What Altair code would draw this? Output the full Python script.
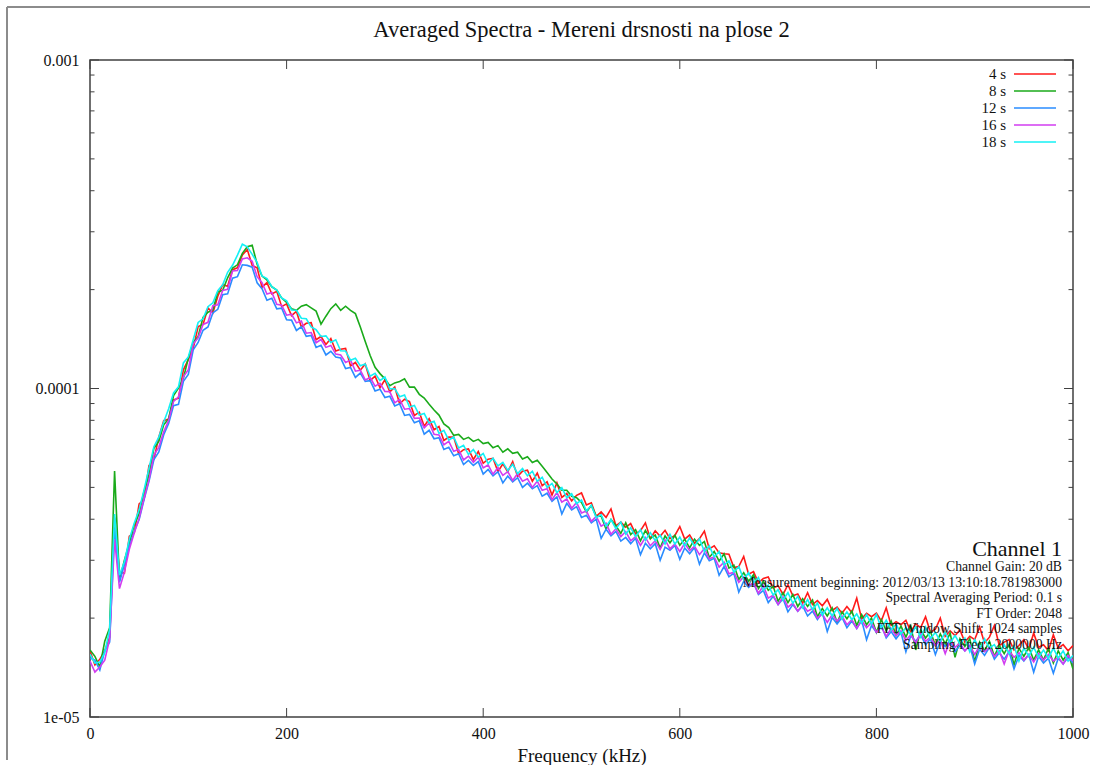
import altair as alt
import pandas as pd

FONT = "Liberation Serif"

# frequency grid (kHz)
FREQ = list(range(0, 1001, 5))
UNIT = 1e-5  # values below are in units of 1e-5

S4 = [1.59,1.44,1.50,1.59,1.75,4.05,2.76,2.74,3.55,3.63,
4.45,4.59,5.83,6.08,7.11,7.98,8.08,9.23,9.34,11.4,
12.24,13.25,15.44,15.67,17.58,16.99,19.1,20.7,20.47,23.0,
23.3,25.5,26.5,23.7,23.3,20.35,21.0,19.4,19.76,17.75,
18.1,16.66,17.16,15.4,15.8,15.86,14.07,14.4,13.62,14.2,
13.0,13.16,13.25,11.71,12.0,11.37,11.87,10.57,10.9,10.05,
10.63,9.77,10.1,8.98,9.28,9.13,8.28,8.47,7.67,8.09,
7.49,7.66,6.95,7.11,7.12,6.33,6.51,6.55,6.08,6.43,
5.92,6.09,6.13,5.58,5.9,5.58,5.99,5.4,5.6,5.64,
5.22,5.53,5.06,5.2,4.74,5.16,4.66,4.79,4.55,4.73,
4.81,4.42,4.49,4.08,4.21,4.05,4.3,3.82,3.92,3.78,
3.88,3.61,3.69,3.9,3.49,3.69,3.55,3.70,3.49,3.57,
3.8,3.48,3.58,3.38,3.49,3.68,3.25,3.32,3.16,3.14,
3.13,2.85,2.87,3.08,2.72,2.77,2.56,2.64,2.67,2.47,
2.51,2.36,2.53,2.34,2.37,2.22,2.39,2.20,2.26,2.18,
2.28,2.11,2.16,2.07,2.17,2.08,2.3,1.99,2.07,2.02,
2.07,1.96,2.15,1.90,1.95,1.91,1.97,1.82,1.92,1.87,
2.02,1.81,1.85,2.0,1.76,1.83,1.77,1.84,1.69,1.76,
1.72,1.88,1.68,1.75,1.9,1.65,1.69,1.72,1.60,1.65,
1.72,1.61,1.8,1.63,1.66,1.59,1.78,1.62,1.66,1.59,
1.65]

S8 = [1.60,1.53,1.42,1.70,1.87,5.61,2.60,3.0,3.38,3.85,
4.16,4.87,5.44,6.58,6.9,7.76,8.08,9.51,10.03,10.74,
12.36,13.8,14.4,16.46,17.07,17.35,19.67,19.89,21.73,23.26,
23.8,25.8,27.0,27.3,23.9,22.0,21.4,20.4,19.95,18.85,
18.3,17.5,17.3,17.8,18.0,17.6,17.2,15.7,16.6,17.5,
18.1,17.3,17.8,17.3,16.9,15.4,13.9,12.6,11.6,11.1,
10.7,10.2,10.4,10.5,10.7,10.1,10.1,9.6,9.35,8.95,
8.6,8.3,7.8,7.6,7.2,7.25,7.0,7.1,6.9,7.0,
6.8,6.85,6.6,6.7,6.4,6.55,6.35,6.4,6.1,6.2,
5.95,6.05,5.8,5.55,5.3,5.12,4.9,4.9,4.7,4.65,
4.5,4.2,4.41,4.08,4.09,3.73,3.99,3.82,3.62,3.9,
3.59,3.72,3.44,3.7,3.49,3.58,3.27,3.56,3.39,3.57,
3.33,3.48,3.27,3.48,3.33,3.42,3.06,3.19,2.98,3.14,
2.84,2.9,2.62,2.75,2.59,2.71,2.46,2.59,2.43,2.5,
2.25,2.39,2.23,2.36,2.17,2.29,2.17,2.27,2.02,2.14,
2.03,2.15,1.94,2.09,1.99,2.1,1.9,2.05,1.91,2.0,
1.81,1.98,1.83,1.96,1.77,1.89,1.75,1.89,1.6,1.84,
1.74,1.82,1.65,1.79,1.67,1.8,1.52,1.73,1.64,1.73,
1.47,1.69,1.59,1.7,1.53,1.65,1.56,1.66,1.44,1.62,
1.53,1.63,1.49,1.6,1.49,1.62,1.46,1.59,1.49,1.57,
1.4]

S12 = [1.51,1.49,1.39,1.59,1.69,3.74,2.57,2.91,3.31,3.67,
3.99,4.59,5.22,6.08,6.41,7.23,7.83,8.87,8.95,10.52,
11.04,13.11,13.81,15.04,15.4,17.0,17.42,19.29,19.41,21.66,
21.9,23.8,23.7,23.4,20.98,20.14,18.56,18.81,17.48,17.57,
16.19,16.15,15.02,15.41,14.42,14.5,13.34,13.54,12.65,12.98,
12.46,12.38,11.5,11.59,10.81,11.14,10.51,10.57,9.83,9.95,
9.39,9.47,8.85,8.98,8.28,8.34,7.86,7.97,7.26,7.46,
7.03,7.08,6.52,6.62,6.24,6.33,5.87,6.04,5.83,5.99,
5.49,5.67,5.42,5.58,5.16,5.41,5.2,5.35,5.0,5.15,
4.95,5.06,4.7,4.8,4.54,4.68,4.15,4.47,4.27,4.37,
4.05,4.11,3.9,4.0,3.5,3.73,3.56,3.67,3.43,3.52,
3.37,3.5,3.12,3.38,3.25,3.37,3.0,3.29,3.22,3.33,
3.02,3.27,3.14,3.28,2.92,3.16,2.99,3.04,2.7,2.87,
2.67,2.74,2.4,2.59,2.48,2.56,2.36,2.43,2.23,2.33,
2.2,2.29,2.09,2.2,2.1,2.18,2.03,2.1,1.98,2.08,
1.82,2.01,1.92,2.01,1.87,1.96,1.86,1.97,1.72,1.9,
1.81,1.9,1.74,1.82,1.73,1.81,1.58,1.77,1.7,1.78,
1.66,1.73,1.55,1.7,1.64,1.71,1.58,1.65,1.59,1.65,
1.45,1.61,1.54,1.63,1.5,1.57,1.5,1.58,1.4,1.54,
1.48,1.55,1.37,1.53,1.46,1.51,1.36,1.51,1.45,1.52,
1.46]

S16 = [1.48,1.37,1.42,1.49,1.73,3.48,2.46,2.76,3.24,3.63,
4.03,4.63,5.27,6.27,6.62,7.38,8.0,9.14,9.44,10.85,
11.4,13.66,14.26,15.67,15.9,17.88,17.98,19.89,20.05,22.8,
22.85,24.8,25.0,24.4,21.9,21.0,19.4,19.6,18.05,17.93,
16.72,16.83,15.84,16.05,14.73,14.8,13.78,14.1,13.34,13.52,
12.73,12.64,12.0,12.2,11.29,11.37,10.62,10.79,10.16,10.37,
9.8,9.77,9.04,9.26,8.65,8.69,8.11,8.13,7.59,7.85,
7.26,7.22,6.74,6.9,6.44,6.52,6.06,6.23,5.96,6.18,
5.73,5.85,5.48,5.75,5.44,5.58,5.25,5.51,5.22,5.31,
5.0,5.22,4.9,4.95,4.59,4.82,4.51,4.61,4.32,4.5,
4.18,4.24,3.94,4.08,3.81,3.89,3.6,3.74,3.54,3.67,
3.44,3.54,3.33,3.52,3.32,3.44,3.24,3.46,3.25,3.36,
3.19,3.38,3.21,3.31,3.12,3.26,3.03,3.07,2.86,2.96,
2.73,2.76,2.57,2.67,2.51,2.56,2.38,2.51,2.3,2.35,
2.2,2.32,2.16,2.22,2.1,2.2,2.1,2.14,2.0,2.06,
1.94,2.05,1.96,2.03,1.91,1.98,1.86,1.97,1.87,1.94,
1.81,1.88,1.76,1.86,1.77,1.83,1.71,1.78,1.68,1.8,
1.7,1.75,1.65,1.72,1.56,1.71,1.63,1.68,1.59,1.65,
1.55,1.64,1.58,1.63,1.53,1.59,1.45,1.59,1.52,1.57,
1.49,1.55,1.47,1.56,1.49,1.55,1.48,1.52,1.45,1.54,
1.48]

S18 = [1.555,1.46,1.47,1.57,1.85,4.15,2.7,2.97,3.48,3.89,
4.28,4.91,5.72,6.65,7.11,7.91,8.67,9.69,10.12,11.96,
12.48,14.07,15.89,16.3,17.74,18.23,19.85,20.69,22.58,23.71,
25.47,27.5,27.0,25.6,24.2,22.0,21.6,20.4,19.95,18.85,
18.5,17.34,17.3,16.37,16.3,15.4,15.1,14.4,14.46,13.8,
14.07,13.03,13.0,12.2,12.36,11.72,11.87,10.9,11.12,10.57,
10.84,9.97,10.0,9.44,9.56,8.78,8.88,8.3,8.39,7.85,
7.95,7.3,7.46,6.97,7.12,6.59,6.71,6.3,6.52,6.18,
6.34,5.91,6.13,5.81,5.96,5.63,5.88,5.51,5.71,5.42,
5.6,5.22,5.37,5.0,5.14,4.82,4.99,4.65,4.78,4.46,
4.58,4.24,4.41,4.04,4.13,3.81,3.99,3.74,3.92,3.6,
3.77,3.54,3.72,3.45,3.64,3.44,3.58,3.36,3.6,3.36,
3.53,3.31,3.51,3.31,3.49,3.19,3.32,3.07,3.19,2.9,
2.99,2.76,2.87,2.62,2.75,2.56,2.66,2.43,2.52,2.35,
2.44,2.27,2.39,2.22,2.33,2.15,2.28,2.12,2.22,2.04,
2.15,2.03,2.14,1.99,2.09,1.98,2.06,1.93,2.05,1.92,
2.05,1.86,1.97,1.84,1.92,1.79,1.87,1.78,1.88,1.75,
1.88,1.73,1.81,1.7,1.81,1.68,1.77,1.67,1.74,1.58,
1.72,1.61,1.73,1.62,1.66,1.56,1.66,1.56,1.65,1.48,
1.62,1.53,1.63,1.52,1.6,1.51,1.62,1.51,1.59,1.48,
1.54]

SERIES = ["4 s", "8 s", "12 s", "16 s", "18 s"]
COLORS = ["#ff1a1a", "#1aaa1a", "#2a8cff", "#d23cf0", "#14f0f5"]
SERIES_VALUES = [S4, S8, S12, S16, S18]

TITLE = "Averaged Spectra - Mereni drsnosti na plose 2"
X_TITLE = "Frequency (kHz)"
X_TICKS = [0, 200, 400, 600, 800, 1000]
Y_MAJOR = [1e-5, 1e-4, 1e-3]
Y_MINOR = [2e-5, 3e-5, 4e-5, 5e-5, 6e-5, 7e-5, 8e-5, 9e-5,
           2e-4, 3e-4, 4e-4, 5e-4, 6e-4, 7e-4, 8e-4, 9e-4]

ANNOT_HEAD = "Channel 1"
ANNOT_LINES = [
    "Channel Gain: 20 dB",
    "Measurement beginning: 2012/03/13 13:10:18.781983000",
    "Spectral Averaging Period: 0.1 s",
    "FT Order: 2048",
    "FFT Window Shift: 1024 samples",
    "Sampling Freq.: 2000000 Hz",
]

W, H = 983, 657
TXT = "#111111"
AX = "#404040"

xs = alt.Scale(domain=[0, 1000], nice=False, zero=False)
ys = alt.Scale(type="log", domain=[1e-5, 1e-3], nice=False)

# one shared axis definition per channel, used identically by every layer
AXIS_X = alt.Axis(
    values=X_TICKS, format="d", title=X_TITLE, grid=False, ticks=False, domain=False,
    labelFont=FONT, labelFontSize=16, labelColor=TXT, labelPadding=8,
    labelFlush=False, labelOverlap=False,
    titleFont=FONT, titleFontSize=19, titleFontWeight="normal",
    titleColor=TXT, titlePadding=5)
AXIS_Y = alt.Axis(
    values=Y_MAJOR, title="", grid=False, ticks=False, domain=False,
    labelFont=FONT, labelFontSize=16, labelColor=TXT, labelPadding=11,
    labelFlush=False, labelOverlap=False,
    labelExpr="datum.value > 0.0005 ? '0.001' : (datum.value > 0.00005 ? '0.0001' : '1e-05')")

one = pd.DataFrame({"k": [0]})
layers = []

# data lines (drawn in legend order)
for name, vals, col in zip(SERIES, SERIES_VALUES, COLORS):
    assert len(vals) == len(FREQ), (name, len(vals))
    df = pd.DataFrame({"f": FREQ, "v": [u * UNIT for u in vals]})
    layers.append(alt.Chart(df).mark_line(color=col, strokeWidth=1.6, clip=True).encode(
        x=alt.X("f:Q", scale=xs, axis=AXIS_X, title=X_TITLE),
        y=alt.Y("v:Q", scale=ys, axis=AXIS_Y, title="")))

# inward ticks (gnuplot style), mirrored on all sides
xt = pd.DataFrame({"f": X_TICKS})
ymaj = pd.DataFrame({"v": Y_MAJOR})
ymin = pd.DataFrame({"v": Y_MINOR})
for (y1, y2) in [(H, H - 9), (0, 9)]:
    layers.append(alt.Chart(xt).mark_rule(color=AX, strokeWidth=1).encode(
        x=alt.X("f:Q", scale=xs, axis=AXIS_X, title=X_TITLE),
        y=alt.value(y1), y2=alt.value(y2)))
for data, ln in [(ymaj, 9), (ymin, 4.5)]:
    layers.append(alt.Chart(data).mark_rule(color=AX, strokeWidth=1).encode(
        y=alt.Y("v:Q", scale=ys, axis=AXIS_Y, title=""),
        x=alt.value(0), x2=alt.value(ln)))
    layers.append(alt.Chart(data).mark_rule(color=AX, strokeWidth=1).encode(
        y=alt.Y("v:Q", scale=ys, axis=AXIS_Y, title=""),
        x=alt.value(W), x2=alt.value(W - ln)))

# outer page frame (gray), left and top edges
layers.append(alt.Chart(one).mark_rule(color="#8c8c8c", strokeWidth=2).encode(
    x=alt.value(-83), y=alt.value(-53), y2=alt.value(700)))
layers.append(alt.Chart(one).mark_rule(color="#8c8c8c", strokeWidth=2).encode(
    x=alt.value(-83), x2=alt.value(1000), y=alt.value(-53)))

# title
layers.append(alt.Chart(pd.DataFrame({"t": [TITLE]})).mark_text(
    font=FONT, fontSize=22.5, color=TXT, align="center", baseline="middle").encode(
    x=alt.value(W / 2), y=alt.value(-30), text="t:N"))

# annotation block
layers.append(alt.Chart(pd.DataFrame({"t": [ANNOT_HEAD]})).mark_text(
    font=FONT, fontSize=22, color=TXT, align="right", baseline="middle").encode(
    x=alt.value(972), y=alt.value(489), text="t:N"))
for i, line in enumerate(ANNOT_LINES):
    layers.append(alt.Chart(pd.DataFrame({"t": [line]})).mark_text(
        font=FONT, fontSize=13.7, color=TXT, align="right", baseline="middle").encode(
        x=alt.value(972), y=alt.value(507 + 15.5 * i), text="t:N"))

# legend (gnuplot key: label then line sample)
for i, (name, col) in enumerate(zip(SERIES, COLORS)):
    yy = 14 + 17 * i
    layers.append(alt.Chart(pd.DataFrame({"t": [name]})).mark_text(
        font=FONT, fontSize=15, color=TXT, align="right", baseline="middle").encode(
        x=alt.value(916), y=alt.value(yy), text="t:N"))
    layers.append(alt.Chart(one).mark_rule(color=col, strokeWidth=1.5).encode(
        x=alt.value(924), x2=alt.value(966), y=alt.value(yy)))

chart = alt.layer(*layers).properties(
    width=W, height=H,
    padding={"left": 6, "top": 6, "right": 0, "bottom": 0},
    background="white",
).configure_view(stroke=AX, strokeWidth=1.5)

chart.save("out.html", embed_options={"renderer": "svg", "actions": False})
